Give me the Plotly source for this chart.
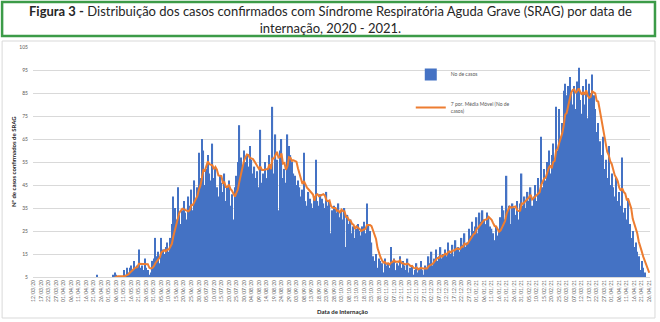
import pandas as pd
import plotly.graph_objects as go

# ---- Data ----
start_date = "2020-03-12"
end_date = "2021-04-26"
dates = pd.date_range(start_date, end_date, freq="D")
date_labels = [d.strftime("%d/%m/%y") for d in dates]

casos = [
    # d0-59 (very low counts, below the axis minimum)
    1, 0, 1, 2, 0, 1, 1, 2, 1, 0,
    2, 1, 1, 2, 3, 1, 2, 1, 2, 3,
    2, 1, 3, 2, 2, 3, 1, 2, 3, 2,
    3, 2, 2, 4, 3, 2, 3, 4, 2, 3,
    4, 3, 6, 3, 4, 3, 4, 5, 3, 4,
    4, 5, 4, 6, 7, 6, 5, 4, 5, 4,
    # d60-70
    8, 6, 9, 7, 9, 10, 8, 12, 9, 10, 17,
    # d71-80
    9, 10, 8, 13, 9, 8, 6, 7, 12, 13,
    # d81-90
    22, 14, 16, 11, 22, 17, 15, 18, 20, 16,
    # d91-100
    22, 28, 40, 35, 30, 44, 32, 28, 34, 38,
    # d101-110
    33, 30, 40, 36, 43, 34, 47, 38, 44, 59,
    # d111-120
    48, 65, 60, 45, 52, 58, 50, 47, 63, 48,
    # d121-133
    52, 44, 40, 49, 46, 42, 50, 38, 44, 47, 36, 41, 30,
    # d134-144
    44, 49, 55, 71, 57, 52, 60, 55, 58, 53, 62,
    # d145-155
    56, 50, 53, 48, 51, 44, 69, 46, 50, 55, 48,
    # d156-165
    52, 58, 54, 79, 50, 67, 56, 34, 60, 65,
    # d166-175
    48, 52, 46, 67, 62, 58, 55, 50, 49, 45,
    # d176-186
    47, 44, 40, 43, 59, 38, 36, 42, 39, 37, 35,
    # d187-199
    40, 56, 38, 36, 41, 39, 37, 35, 42, 36, 38, 24, 34,
    # d200-210
    36, 35, 33, 37, 31, 34, 30, 35, 18, 32, 28,
    # d211-220
    30, 24, 27, 22, 26, 28, 25, 23, 27, 29,
    # d221-230
    24, 37, 28, 25, 20, 14, 12, 15, 9, 13,
    # d231-246
    12, 11, 7, 13, 10, 11, 9, 18, 12, 13, 8, 11, 10, 14, 9, 12,
    # d247-261
    10, 8, 13, 7, 9, 10, 6, 8, 11, 7, 9, 12, 8, 6, 10,
    # d262-275
    9, 14, 11, 16, 10, 13, 17, 12, 14, 18, 13, 15, 17, 14,
    # d276-288
    20, 16, 15, 19, 14, 21, 17, 18, 16, 22, 19, 24, 18,
    # d289-299
    20, 26, 23, 29, 25, 27, 31, 24, 33, 29, 34,
    # d300-310
    30, 28, 33, 31, 27, 26, 24, 21, 27, 23, 25,
    # d311-320
    31, 36, 34, 30, 49, 33, 36, 28, 37, 35,
    # d321-332
    32, 38, 30, 37, 50, 36, 40, 35, 42, 38, 44, 36,
    # d333-343
    40, 45, 38, 48, 42, 66, 44, 52, 47, 55, 60,
    # d344-358
    50, 58, 63, 55, 79, 60, 78, 65, 72, 86, 89, 84, 88, 92, 85,
    # d359-372
    80, 88, 78, 90, 96, 82, 76, 88, 80, 91, 74, 89, 85, 93,
    # d373-385
    84, 78, 68, 72, 64, 58, 66, 52, 56, 48, 62, 45, 50,
    # d386-396
    44, 40, 48, 38, 42, 36, 57, 33, 35, 30, 39,
    # d397-410
    28, 22, 25, 18, 20, 16, 14, 8, 12, 9, 7, 4, 5, 3,
]

y_ticks = [5, 15, 25, 35, 45, 55, 65, 75, 85, 95, 105]
tick_step = 5

serie_casos = "No de casos"
serie_media = "7 por. Média Móvel (No de<br>casos)"
titulo = ("<b>Figura 3 -</b> Distribuição dos casos confirmados com Síndrome Respiratória Aguda Grave (SRAG) por data de"
          "<br>internação, 2020 - 2021.")
titulo_y = "Nº de casos confirmados de SRAG"
titulo_x = "Data de Internação"

n = min(len(casos), len(date_labels))
date_labels = date_labels[:n]
casos = casos[:n]
media = pd.Series(casos).rolling(7).mean().tolist()

# ---- Figure ----
W, H = 660, 322
L, R, T, B = 33, 8, 47, 45
pw, ph = W - L - R, H - T - B


def px_x(p):
    return (p - L) / pw


def px_y(p):
    return (H - B - p) / ph


fig = go.Figure()
fig.add_trace(go.Bar(
    x=date_labels, y=casos, name=serie_casos,
    marker=dict(color="#4472C4", line=dict(width=0)),
    legendgroup="a",
))
fig.add_trace(go.Scatter(
    x=date_labels, y=media, name=serie_media, mode="lines",
    line=dict(color="#ED7D31", width=2), legendgroup="b",
))

fig.update_layout(
    width=W, height=H,
    margin=dict(l=L, r=R, t=T, b=B),
    paper_bgcolor="white", plot_bgcolor="white",
    bargap=0.12,
    font=dict(family="Lato, Open Sans, sans-serif", color="#595959", size=5),
    showlegend=True,
    legend=dict(
        x=px_x(412), y=px_y(60), xanchor="left", yanchor="top",
        bgcolor="rgba(0,0,0,0)", font=dict(size=5, color="#595959"),
        tracegroupgap=14, traceorder="grouped", itemwidth=30,
    ),
    xaxis=dict(
        type="category", tickangle=-90,
        tickmode="array", tickvals=date_labels[::tick_step], ticktext=date_labels[::tick_step],
        tickfont=dict(size=5, color="#595959"),
        showgrid=False, showline=True, linecolor="#d9d9d9", linewidth=1,
        ticks="", range=[-0.5, n - 0.5],
    ),
    yaxis=dict(
        range=[5, 105], tickmode="array", tickvals=y_ticks,
        tickfont=dict(size=5, color="#595959"),
        showgrid=True, gridcolor="#d9d9d9", gridwidth=1,
        zeroline=False, showline=False, ticks="", ticklabelstandoff=4,
    ),
)

shapes = [
    dict(type="rect", xref="paper", yref="paper",
         x0=px_x(2), x1=px_x(657), y0=px_y(36), y1=px_y(2),
         line=dict(color="#3c9b48", width=2.5), fillcolor="rgba(0,0,0,0)", layer="above"),
    dict(type="rect", xref="paper", yref="paper",
         x0=px_x(2), x1=px_x(657), y0=px_y(318), y1=px_y(41),
         line=dict(color="#d9d9d9", width=1), fillcolor="rgba(0,0,0,0)", layer="below"),
]
fig.update_layout(shapes=shapes)

fig.add_annotation(
    text=titulo, xref="paper", yref="paper", x=px_x(331), y=px_y(19),
    xanchor="center", yanchor="middle", showarrow=False, align="center",
    font=dict(family="Lato, sans-serif", size=13, color="#262626"),
)
fig.add_annotation(
    text="<b>" + titulo_y + "</b>", xref="paper", yref="paper", x=px_x(13), y=px_y(162),
    xanchor="center", yanchor="middle", showarrow=False, textangle=-90,
    font=dict(size=6, color="#262626"),
)
fig.add_annotation(
    text="<b>" + titulo_x + "</b>", xref="paper", yref="paper", x=px_x(344), y=px_y(311),
    xanchor="center", yanchor="middle", showarrow=False,
    font=dict(size=6, color="#262626"),
)

fig.write_html("out.html")
